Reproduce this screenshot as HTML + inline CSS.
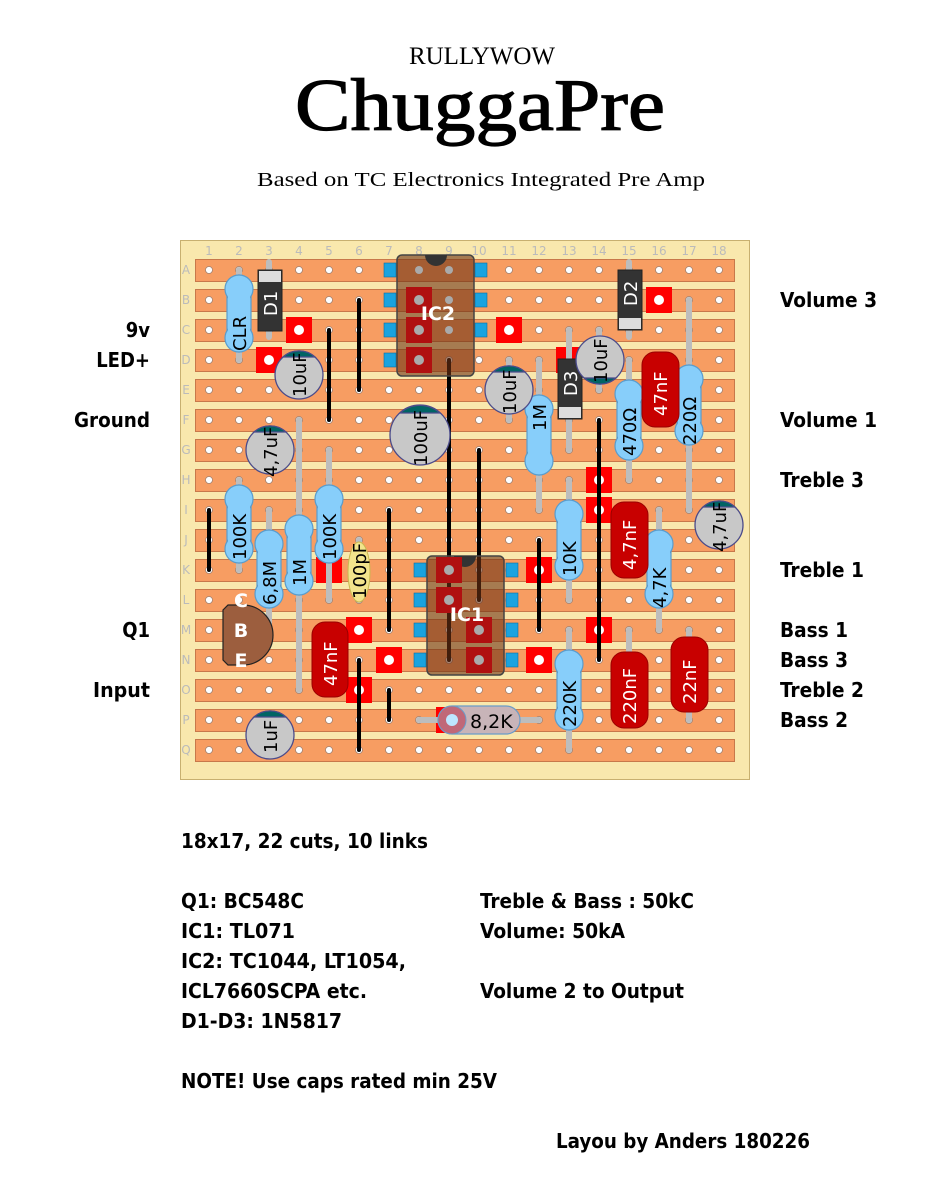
<!DOCTYPE html>
<html><head><meta charset="utf-8"><style>
html,body{margin:0;padding:0;background:#fff;}
svg{display:block}
.b{font-family:"DejaVu Sans Condensed","DejaVu Sans",sans-serif;font-weight:bold;font-size:20px;fill:#000}
.c{font-family:"DejaVu Sans",sans-serif;font-size:18px}
.g{font-family:"DejaVu Sans",sans-serif;font-size:12px;fill:#bbb}
</style></head><body>
<svg width="943" height="1178" viewBox="0 0 943 1178" xmlns="http://www.w3.org/2000/svg">
<defs>
<pattern id="st" x="195" y="259" width="540" height="30" patternUnits="userSpaceOnUse"><rect x="0.5" y="0.5" width="539" height="22" fill="#f79d62" stroke="#c8784a"/></pattern>
<pattern id="ho" x="194" y="255" width="30" height="30" patternUnits="userSpaceOnUse"><circle cx="15" cy="15" r="3.5" fill="#fff" stroke="#a08070" stroke-width="0.8"/></pattern>
</defs>
<text x="482" y="64" text-anchor="middle" font-family="Liberation Serif,serif" font-size="25">RULLYWOW</text>
<text x="480" y="130" text-anchor="middle" font-family="Liberation Serif,serif" font-size="74" stroke="#000" stroke-width="1.2" textLength="370" lengthAdjust="spacingAndGlyphs">ChuggaPre</text>
<text x="481" y="186" text-anchor="middle" font-family="Liberation Serif,serif" font-size="20" textLength="448" lengthAdjust="spacingAndGlyphs">Based on TC Electronics Integrated Pre Amp</text>
<rect x="180.5" y="240.5" width="569" height="539" fill="#f9e8ad" stroke="#c8b070"/>
<rect x="195" y="259" width="540" height="510" fill="url(#st)"/>
<rect x="194" y="255" width="540" height="510" fill="url(#ho)"/>
<g class="g" text-anchor="middle">
<text x="209" y="255">1</text><text x="239" y="255">2</text><text x="269" y="255">3</text><text x="299" y="255">4</text><text x="329" y="255">5</text><text x="359" y="255">6</text><text x="389" y="255">7</text><text x="419" y="255">8</text><text x="449" y="255">9</text><text x="479" y="255">10</text><text x="509" y="255">11</text><text x="539" y="255">12</text><text x="569" y="255">13</text><text x="599" y="255">14</text><text x="629" y="255">15</text><text x="659" y="255">16</text><text x="689" y="255">17</text><text x="719" y="255">18</text>
<text x="186" y="274">A</text><text x="186" y="304">B</text><text x="186" y="334">C</text><text x="186" y="364">D</text><text x="186" y="394">E</text><text x="186" y="424">F</text><text x="186" y="454">G</text><text x="186" y="484">H</text><text x="186" y="514">I</text><text x="186" y="544">J</text><text x="186" y="574">K</text><text x="186" y="604">L</text><text x="186" y="634">M</text><text x="186" y="664">N</text><text x="186" y="694">O</text><text x="186" y="724">P</text><text x="186" y="754">Q</text>
</g>
<g fill="#ff0000">
<rect x="286" y="317" width="26" height="26"/><rect x="256" y="347" width="26" height="26"/><rect x="496" y="317" width="26" height="26"/><rect x="646" y="287" width="26" height="26"/><rect x="556" y="347" width="26" height="26"/><rect x="586" y="467" width="26" height="26"/><rect x="586" y="497" width="26" height="26"/><rect x="316" y="557" width="26" height="26"/><rect x="346" y="617" width="26" height="26"/><rect x="376" y="647" width="26" height="26"/><rect x="346" y="677" width="26" height="26"/><rect x="436" y="707" width="26" height="26"/><rect x="526" y="647" width="26" height="26"/><rect x="526" y="557" width="26" height="26"/><rect x="586" y="617" width="26" height="26"/>
</g>
<g fill="#fff">
<circle cx="299" cy="330" r="5"/><circle cx="269" cy="360" r="5"/><circle cx="509" cy="330" r="5"/><circle cx="659" cy="300" r="5"/><circle cx="599" cy="480" r="5"/><circle cx="599" cy="510" r="5"/><circle cx="359" cy="630" r="5"/><circle cx="389" cy="660" r="5"/><circle cx="359" cy="690" r="5"/><circle cx="539" cy="660" r="5"/><circle cx="539" cy="570" r="5"/><circle cx="599" cy="630" r="5"/>
</g>
<g stroke="#000" stroke-width="4" stroke-linecap="round">
<line x1="329" y1="330" x2="329" y2="420"/><line x1="359" y1="300" x2="359" y2="390"/><line x1="449" y1="360" x2="449" y2="660"/><line x1="479" y1="450" x2="479" y2="600"/><line x1="209" y1="510" x2="209" y2="570"/><line x1="389" y1="510" x2="389" y2="630"/><line x1="539" y1="540" x2="539" y2="630"/><line x1="599" y1="420" x2="599" y2="660"/><line x1="359" y1="660" x2="359" y2="750"/><line x1="389" y1="690" x2="389" y2="720"/>
</g>
<g stroke="#bdbdbd" stroke-width="6" stroke-linecap="round">
<line x1="239" y1="270" x2="239" y2="360"/><line x1="269" y1="262" x2="269" y2="337"/><line x1="629" y1="262" x2="629" y2="337"/><line x1="569" y1="330" x2="569" y2="450"/>
<line x1="239" y1="480" x2="239" y2="570"/><line x1="269" y1="510" x2="269" y2="630"/><line x1="299" y1="420" x2="299" y2="690"/><line x1="329" y1="450" x2="329" y2="600"/>
<line x1="539" y1="360" x2="539" y2="510"/><line x1="629" y1="360" x2="629" y2="480"/><line x1="689" y1="300" x2="689" y2="510"/><line x1="569" y1="480" x2="569" y2="600"/><line x1="659" y1="510" x2="659" y2="630"/><line x1="569" y1="630" x2="569" y2="750"/><line x1="419" y1="720" x2="539" y2="720"/><line x1="359" y1="540" x2="359" y2="600"/><line x1="509" y1="360" x2="509" y2="420"/><line x1="599" y1="330" x2="599" y2="390"/>
<line x1="629" y1="630" x2="629" y2="720"/><line x1="689" y1="630" x2="689" y2="720"/><line x1="659" y1="360" x2="659" y2="420"/><line x1="629" y1="510" x2="629" y2="570"/>
</g>
<g fill="#1aa3e0" stroke="#0a6fa0" stroke-width="0.6">
<rect x="384" y="263" width="12" height="14"/><rect x="384" y="293" width="12" height="14"/><rect x="384" y="323" width="12" height="14"/><rect x="384" y="353" width="12" height="14"/>
<rect x="475" y="263" width="12" height="14"/><rect x="475" y="293" width="12" height="14"/><rect x="475" y="323" width="12" height="14"/>
<rect x="414" y="563" width="12" height="14"/><rect x="414" y="593" width="12" height="14"/><rect x="414" y="623" width="12" height="14"/><rect x="414" y="653" width="12" height="14"/>
<rect x="506" y="563" width="12" height="14"/><rect x="506" y="593" width="12" height="14"/><rect x="506" y="623" width="12" height="14"/><rect x="506" y="653" width="12" height="14"/>
</g>
<rect x="397" y="255" width="77" height="121" rx="5" fill="rgba(110,50,20,0.6)" stroke="#444" stroke-width="1.5"/>
<path d="M425 255 A11 11 0 0 0 447 255 Z" fill="#333"/>
<g fill="#b01010"><rect x="406" y="287" width="26" height="26"/><rect x="406" y="317" width="26" height="26"/><rect x="406" y="347" width="26" height="26"/></g>
<g fill="#aaa"><circle cx="419" cy="300" r="5"/><circle cx="419" cy="330" r="5"/><circle cx="419" cy="360" r="5"/><circle cx="419" cy="270" r="4"/><circle cx="449" cy="270" r="4"/><circle cx="449" cy="300" r="4"/><circle cx="449" cy="330" r="4"/></g>
<text x="438" y="320" text-anchor="middle" font-family="DejaVu Sans,sans-serif" font-weight="bold" font-size="19" fill="#fff">IC2</text>
<rect x="427" y="556" width="77" height="119" rx="5" fill="rgba(110,50,20,0.6)" stroke="#444" stroke-width="1.5"/>
<path d="M454 556 A11 11 0 0 0 476 556 Z" fill="#333"/>
<g fill="#b01010"><rect x="436" y="557" width="26" height="26"/><rect x="436" y="587" width="26" height="26"/><rect x="466" y="617" width="26" height="26"/><rect x="466" y="647" width="26" height="26"/></g>
<g fill="#aaa"><circle cx="449" cy="570" r="5"/><circle cx="449" cy="600" r="5"/><circle cx="479" cy="630" r="5"/><circle cx="479" cy="660" r="5"/></g>
<text x="467" y="621" text-anchor="middle" font-family="DejaVu Sans,sans-serif" font-weight="bold" font-size="19" fill="#fff">IC1</text>
<rect x="258" y="270" width="24" height="61" fill="#333" stroke="#222"/><rect x="259" y="271" width="22" height="11" fill="#ddd"/>
<text transform="translate(277,316) rotate(-90)" class="c" fill="#fff">D1</text>
<rect x="618" y="270" width="24" height="60" fill="#333" stroke="#222"/><rect x="619" y="318" width="22" height="11" fill="#ddd"/>
<text transform="translate(637,306) rotate(-90)" class="c" fill="#fff">D2</text>
<rect x="558" y="359" width="24" height="60" fill="#333" stroke="#222"/><rect x="559" y="407" width="22" height="11" fill="#ddd"/>
<text transform="translate(577,396) rotate(-90)" class="c" fill="#fff">D3</text>
<g fill="#87cefa" stroke="#5a9ccc" stroke-width="1.2">
<rect x="227" y="275" width="24" height="77" rx="12"/><circle cx="239" cy="289" r="14"/><circle cx="239" cy="338" r="14"/>
<rect x="227" y="485" width="24" height="78" rx="12"/><circle cx="239" cy="499" r="14"/><circle cx="239" cy="549" r="14"/>
<rect x="257" y="530" width="24" height="78" rx="12"/><circle cx="269" cy="544" r="14"/><circle cx="269" cy="594" r="14"/>
<rect x="287" y="515" width="24" height="80" rx="12"/><circle cx="299" cy="529" r="14"/><circle cx="299" cy="581" r="14"/>
<rect x="317" y="485" width="24" height="78" rx="12"/><circle cx="329" cy="499" r="14"/><circle cx="329" cy="549" r="14"/>
<rect x="527" y="395" width="24" height="80" rx="12"/><circle cx="539" cy="409" r="14"/><circle cx="539" cy="461" r="14"/>
<rect x="617" y="380" width="24" height="80" rx="12"/><circle cx="629" cy="394" r="14"/><circle cx="629" cy="446" r="14"/>
<rect x="677" y="365" width="24" height="80" rx="12"/><circle cx="689" cy="379" r="14"/><circle cx="689" cy="431" r="14"/>
<rect x="557" y="500" width="24" height="80" rx="12"/><circle cx="569" cy="514" r="14"/><circle cx="569" cy="566" r="14"/>
<rect x="647" y="530" width="24" height="78" rx="12"/><circle cx="659" cy="544" r="14"/><circle cx="659" cy="594" r="14"/>
<rect x="557" y="650" width="24" height="80" rx="12"/><circle cx="569" cy="664" r="14"/><circle cx="569" cy="716" r="14"/>
</g>
<g fill="#87cefa">
<rect x="228" y="285" width="22" height="57"/><rect x="228" y="495" width="22" height="58"/><rect x="258" y="540" width="22" height="58"/><rect x="288" y="525" width="22" height="60"/><rect x="318" y="495" width="22" height="58"/><rect x="528" y="405" width="22" height="60"/><rect x="618" y="390" width="22" height="60"/><rect x="678" y="375" width="22" height="60"/><rect x="558" y="510" width="22" height="60"/><rect x="648" y="540" width="22" height="58"/><rect x="558" y="660" width="22" height="60"/>
</g>
<rect x="438" y="706" width="82" height="28" rx="14" fill="#c8b4b8" stroke="#6a9cc8" stroke-width="1.2"/>
<circle cx="452" cy="720" r="14" fill="#c06878" stroke="#6a9cc8"/><circle cx="452" cy="720" r="6" fill="#bde6ff"/>
<g class="c" fill="#000">
<text transform="translate(246,351) rotate(-90)">CLR</text>
<text transform="translate(246,560) rotate(-90)">100K</text>
<text transform="translate(276,605) rotate(-90)">6,8M</text>
<text transform="translate(306,586) rotate(-90)">1M</text>
<text transform="translate(336,560) rotate(-90)">100K</text>
<text transform="translate(546,431) rotate(-90)">1M</text>
<text transform="translate(636,456) rotate(-90)">470Ω</text>
<text transform="translate(696,445) rotate(-90)">220Ω</text>
<text transform="translate(576,576) rotate(-90)">10K</text>
<text transform="translate(666,608) rotate(-90)">4,7K</text>
<text transform="translate(576,727) rotate(-90)">220K</text>
<text x="470" y="728" font-size="19">8,2K</text>
</g>
<ellipse cx="359" cy="572" rx="11" ry="30" fill="#f2e48c" stroke="#c8b850"/>
<text transform="translate(366,599) rotate(-90)" class="c">100pF</text>
<g fill="#c80000" stroke="#900" stroke-width="1">
<rect x="312" y="622" width="36" height="75" rx="13"/>
<rect x="642" y="352" width="37" height="75" rx="13"/>
<rect x="611" y="502" width="37" height="76" rx="13"/>
<rect x="611" y="652" width="37" height="76" rx="13"/>
<rect x="671" y="637" width="37" height="75" rx="13"/>
</g>
<g class="c" fill="#fff">
<text transform="translate(337,686) rotate(-90)">47nF</text>
<text transform="translate(667,416) rotate(-90)">47nF</text>
<text transform="translate(636,570) rotate(-90)">4,7nF</text>
<text transform="translate(636,724) rotate(-90)">220nF</text>
<text transform="translate(696,704) rotate(-90)">22nF</text>
</g>
<g stroke="#4b4b8a" stroke-width="1.3">
<circle cx="299" cy="375" r="24" fill="#c8c8c8"/><path d="M283 357 A24 24 0 0 1 315 357 Z" fill="#006464"/>
<circle cx="270" cy="450" r="24" fill="#c8c8c8"/><path d="M254 432 A24 24 0 0 1 286 432 Z" fill="#006464"/>
<circle cx="420" cy="435" r="30" fill="#c8c8c8"/><path d="M400 413 A30 30 0 0 1 440 413 Z" fill="#006464"/>
<circle cx="509" cy="390" r="24" fill="#c8c8c8"/><path d="M493 372 A24 24 0 0 1 525 372 Z" fill="#006464"/>
<circle cx="600" cy="360" r="24" fill="#c8c8c8"/><path d="M584 378 A24 24 0 0 0 616 378 Z" fill="#006464"/>
<circle cx="270" cy="735" r="24" fill="#c8c8c8"/><path d="M254 717 A24 24 0 0 1 286 717 Z" fill="#006464"/>
<circle cx="719" cy="525" r="24" fill="#c8c8c8"/><path d="M703 507 A24 24 0 0 1 735 507 Z" fill="#006464"/>
</g>
<g class="c" fill="#000">
<text transform="translate(306,397) rotate(-90)">10uF</text>
<text transform="translate(277,477) rotate(-90)">4,7uF</text>
<text transform="translate(427,466) rotate(-90)">100uF</text>
<text transform="translate(516,414) rotate(-90)">10uF</text>
<text transform="translate(607,383) rotate(-90)">10uF</text>
<text transform="translate(277,753) rotate(-90)">1uF</text>
<text transform="translate(726,552) rotate(-90)">4,7uF</text>
</g>
<path d="M228 605 L243 605 A30 30 0 0 1 243 665 L228 665 L223 660 L223 610 Z" fill="#9c5e3e" stroke="#222" stroke-width="1.2"/>
<g font-family="DejaVu Sans,sans-serif" font-weight="bold" font-size="19" fill="#fff" text-anchor="middle">
<text x="241" y="607">C</text><text x="241" y="637">B</text><text x="241" y="667">E</text>
</g>
<g class="b" text-anchor="end">
<text x="150" y="337">9v</text><text x="150" y="367">LED+</text><text x="150" y="427" textLength="76" lengthAdjust="spacingAndGlyphs">Ground</text><text x="150" y="637">Q1</text><text x="150" y="697" textLength="57" lengthAdjust="spacingAndGlyphs">Input</text>
</g>
<g class="b">
<text x="780" y="307" textLength="97" lengthAdjust="spacingAndGlyphs">Volume 3</text><text x="780" y="427" textLength="97" lengthAdjust="spacingAndGlyphs">Volume 1</text><text x="780" y="487" textLength="84" lengthAdjust="spacingAndGlyphs">Treble 3</text><text x="780" y="577" textLength="84" lengthAdjust="spacingAndGlyphs">Treble 1</text><text x="780" y="637" textLength="68" lengthAdjust="spacingAndGlyphs">Bass 1</text><text x="780" y="667" textLength="68" lengthAdjust="spacingAndGlyphs">Bass 3</text><text x="780" y="697" textLength="84" lengthAdjust="spacingAndGlyphs">Treble 2</text><text x="780" y="727" textLength="68" lengthAdjust="spacingAndGlyphs">Bass 2</text>
</g>
<g class="b">
<text x="181" y="848" textLength="247" lengthAdjust="spacingAndGlyphs">18x17, 22 cuts, 10 links</text>
<text x="181" y="908" textLength="123" lengthAdjust="spacingAndGlyphs">Q1: BC548C</text>
<text x="181" y="938" textLength="114" lengthAdjust="spacingAndGlyphs">IC1: TL071</text>
<text x="181" y="968" textLength="225" lengthAdjust="spacingAndGlyphs">IC2: TC1044, LT1054,</text>
<text x="181" y="998" textLength="186" lengthAdjust="spacingAndGlyphs">ICL7660SCPA etc.</text>
<text x="181" y="1028" textLength="161" lengthAdjust="spacingAndGlyphs">D1-D3: 1N5817</text>
<text x="181" y="1088" textLength="316" lengthAdjust="spacingAndGlyphs">NOTE! Use caps rated min 25V</text>
<text x="480" y="908" textLength="214" lengthAdjust="spacingAndGlyphs">Treble &amp; Bass : 50kC</text>
<text x="480" y="938" textLength="145" lengthAdjust="spacingAndGlyphs">Volume: 50kA</text>
<text x="480" y="998" textLength="204" lengthAdjust="spacingAndGlyphs">Volume 2 to Output</text>
<text x="556" y="1148" textLength="254" lengthAdjust="spacingAndGlyphs">Layou by Anders 180226</text>
</g>
</svg>
</body></html>
